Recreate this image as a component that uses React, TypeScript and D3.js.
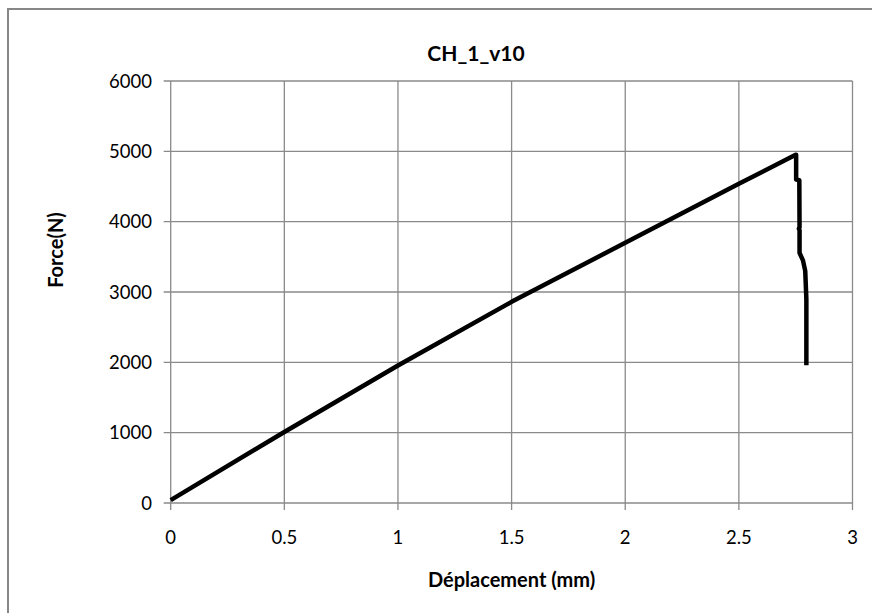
import React from "react";
import * as d3 from "d3";

const title = "CH_1_v10";
const xTitle = "Déplacement (mm)";
const yTitle = "Force(N)";
const xTicks = [0, 0.5, 1, 1.5, 2, 2.5, 3];
const yTicks = [0, 1000, 2000, 3000, 4000, 5000, 6000];

const displacement = [0, 0.5, 1.0, 1.5, 2.0, 2.5, 2.75, 2.752, 2.752, 2.766, 2.767, 2.764, 2.767, 2.767, 2.782, 2.792, 2.797, 2.797];
const force = [40, 1010, 1955, 2860, 3700, 4540, 4950, 4950, 4600, 4590, 3920, 3900, 3880, 3556, 3450, 3300, 2900, 1960];

const W = 872, H = 613;
const M = { left: 170.7, right: 852.5, top: 81, bottom: 503 };
const FONT = "Lato, 'Open Sans', sans-serif";

export default function App() {
  const x = d3.scaleLinear().domain([0, 3]).range([M.left, M.right]);
  const y = d3.scaleLinear().domain([0, 6000]).range([M.bottom, M.top]);
  const pts = displacement.map((d, i) => [d, force[i]] as [number, number]);
  const line = d3.line<[number, number]>().x(d => x(d[0])).y(d => y(d[1]));
  const grid = "#8a8a8a";
  return (
    <svg width={W} height={H} style={{ position: "absolute", left: 0, top: 0, background: "#fff" }}>
      <rect x={8} y={9} width={1000} height={800} fill="#fff" stroke="#878787" strokeWidth={2} />
      {yTicks.map(t => (
        <g key={"y" + t}>
          <line x1={M.left - 7} x2={M.right} y1={y(t)} y2={y(t)} stroke={grid} strokeWidth={1.3} />
          <text x={152} y={y(t)} dy="0.36em" textAnchor="end" fontFamily={FONT} fontSize={18.5} fill="#000">{t}</text>
        </g>
      ))}
      {xTicks.map(t => (
        <g key={"x" + t}>
          <line x1={x(t)} x2={x(t)} y1={M.top} y2={M.bottom + 7} stroke={grid} strokeWidth={1.3} />
          <text x={x(t)} y={537} dy="0.36em" textAnchor="middle" fontFamily={FONT} fontSize={18.5} fill="#000">{t}</text>
        </g>
      ))}
      <path d={line(pts) || ""} fill="none" stroke="#000" strokeWidth={4.5} strokeLinejoin="round" />
      <text x={476} y={53} dy="0.36em" textAnchor="middle" fontFamily={FONT} fontWeight="bold" fontSize={21} fill="#000">{title}</text>
      <text x={511.6} y={580} dy="0.36em" textAnchor="middle" fontFamily={FONT} fontWeight="bold" fontSize={20} fill="#000">{xTitle}</text>
      <text transform={`translate(56,250) rotate(-90)`} dy="0.36em" textAnchor="middle" fontFamily={FONT} fontWeight="bold" fontSize={20} fill="#000">{yTitle}</text>
    </svg>
  );
}
